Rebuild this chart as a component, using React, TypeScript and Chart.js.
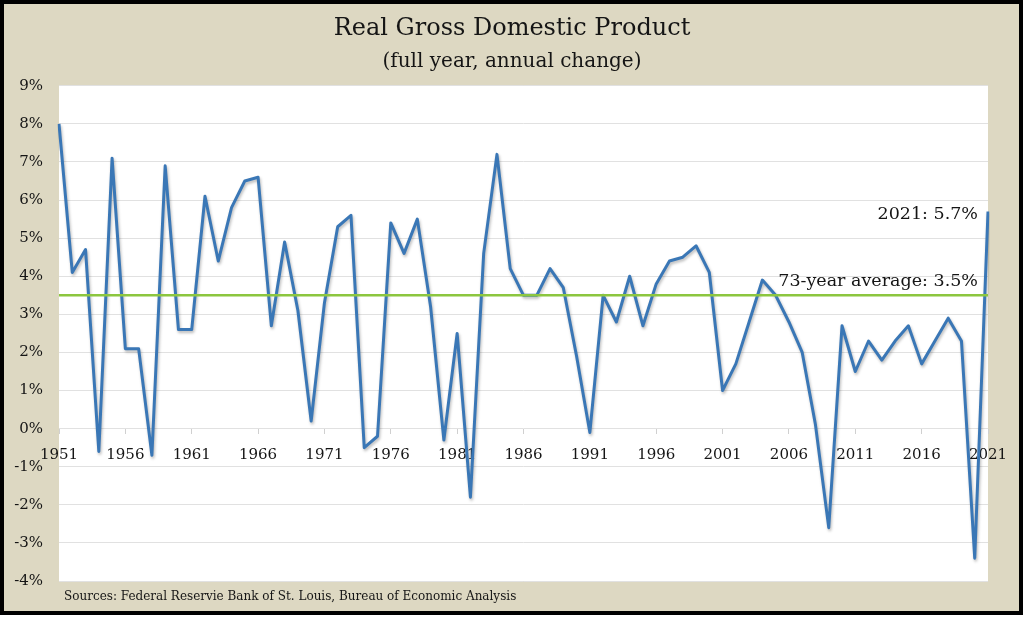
import React, { useEffect, useRef } from 'react';
import { Chart, registerables } from 'chart.js';

Chart.register(...registerables);

// ---- Data ----
const years: string[] = [
  '1951', '1952', '1953', '1954', '1955', '1956', '1957', '1958', '1959', '1960',
  '1961', '1962', '1963', '1964', '1965', '1966', '1967', '1968', '1969', '1970',
  '1971', '1972', '1973', '1974', '1975', '1976', '1977', '1978', '1979', '1980',
  '1981', '1982', '1983', '1984', '1985', '1986', '1987', '1988', '1989', '1990',
  '1991', '1992', '1993', '1994', '1995', '1996', '1997', '1998', '1999', '2000',
  '2001', '2002', '2003', '2004', '2005', '2006', '2007', '2008', '2009', '2010',
  '2011', '2012', '2013', '2014', '2015', '2016', '2017', '2018', '2019', '2020',
  '2021',
];

const gdpGrowth: number[] = [
  8.0, 4.1, 4.7, -0.6, 7.1, 2.1, 2.1, -0.7, 6.9, 2.6,
  2.6, 6.1, 4.4, 5.8, 6.5, 6.6, 2.7, 4.9, 3.1, 0.2,
  3.3, 5.3, 5.6, -0.5, -0.2, 5.4, 4.6, 5.5, 3.2, -0.3,
  2.5, -1.8, 4.6, 7.2, 4.2, 3.5, 3.5, 4.2, 3.7, 1.9,
  -0.1, 3.5, 2.8, 4.0, 2.7, 3.8, 4.4, 4.5, 4.8, 4.1,
  1.0, 1.7, 2.8, 3.9, 3.5, 2.8, 2.0, 0.1, -2.6, 2.7,
  1.5, 2.3, 1.8, 2.3, 2.7, 1.7, 2.3, 2.9, 2.3, -3.4,
  5.7,
];

const AVERAGE = 3.5;
const averageLine: number[] = years.map(() => AVERAGE);

const yTicks: number[] = [-4, -3, -2, -1, 0, 1, 2, 3, 4, 5, 6, 7, 8, 9];
const xTickLabels: string[] = ['1951', '1956', '1961', '1966', '1971', '1976', '1981', '1986', '1991', '1996', '2001', '2006', '2011', '2016', '2021'];

const TITLE = 'Real Gross Domestic Product';
const SUBTITLE = '(full year, annual change)';
const AVG_LABEL = '73-year average: ' + AVERAGE.toFixed(1) + '%';
const LAST_LABEL = years[years.length - 1] + ': ' + gdpGrowth[gdpGrowth.length - 1].toFixed(1) + '%';
const SOURCE = 'Sources: Federal Reservie Bank of St. Louis, Bureau of Economic Analysis';

const SERIF = "'DejaVu Serif', serif";
const TEXT = '#151515';

const plotBg = {
  id: 'plotBg',
  beforeDraw(chart: any) {
    const { ctx, chartArea: a } = chart;
    ctx.save();
    ctx.fillStyle = '#ffffff';
    ctx.fillRect(a.left, a.top, a.right - a.left, a.bottom - a.top);
    ctx.restore();
  },
};

const lineShadow = {
  id: 'lineShadow',
  beforeDatasetDraw(chart: any, args: any) {
    if (args.index !== 1) return;
    const ctx = chart.ctx;
    ctx.save();
    ctx.shadowColor = 'rgba(0,0,0,0.28)';
    ctx.shadowBlur = 3;
    ctx.shadowOffsetX = 1;
    ctx.shadowOffsetY = 2;
  },
  afterDatasetDraw(chart: any, args: any) {
    if (args.index !== 1) return;
    chart.ctx.restore();
  },
};

const annotations = {
  id: 'annotations',
  afterDatasetsDraw(chart: any) {
    const { ctx, chartArea: a, scales } = chart;
    const y = scales.y;
    ctx.save();
    ctx.fillStyle = TEXT;
    ctx.font = '17.5px ' + SERIF;
    ctx.textAlign = 'right';
    ctx.textBaseline = 'middle';
    ctx.fillText(LAST_LABEL, a.right - 10, y.getPixelForValue(gdpGrowth[gdpGrowth.length - 1]) + 3);
    ctx.fillText(AVG_LABEL, a.right - 10, y.getPixelForValue(AVERAGE) - 14);
    ctx.font = '12px ' + SERIF;
    ctx.textAlign = 'left';
    ctx.fillText(SOURCE, 64, a.bottom + 16);
    ctx.restore();
  },
};

export default function App() {
  const ref = useRef<HTMLCanvasElement>(null);

  useEffect(() => {
    document.body.style.margin = '0';
    const chart = new Chart(ref.current as HTMLCanvasElement, {
      type: 'line',
      data: {
        labels: years,
        datasets: [
          {
            label: 'Average',
            data: averageLine,
            borderColor: '#8cc63f',
            borderWidth: 2.5,
            pointRadius: 0,
            order: 0,
          },
          {
            label: 'Real GDP',
            data: gdpGrowth,
            borderColor: '#3a77b6',
            borderWidth: 3,
            pointRadius: 0,
            tension: 0,
            borderJoinStyle: 'round',
            order: 1,
          },
        ],
      },
      options: {
        responsive: false,
        animation: false,
        devicePixelRatio: 1,
        layout: { padding: { top: 4, left: 0, right: 0, bottom: 36 } },
        plugins: {
          legend: { display: false },
          tooltip: { enabled: false },
          title: {
            display: true,
            text: TITLE,
            color: TEXT,
            font: { family: SERIF, size: 24, weight: 'normal' },
            padding: { top: 10, bottom: 4 },
          },
          subtitle: {
            display: true,
            text: SUBTITLE,
            color: TEXT,
            font: { family: SERIF, size: 20, weight: 'normal' },
            padding: { top: 3, bottom: 12 },
          },
        },
        scales: {
          x: {
            type: 'category',
            position: { y: 0 },
            grid: { display: true, drawOnChartArea: false, drawTicks: true, tickLength: 5, color: '#d0d0d0' },
            border: { display: false },
            ticks: {
              autoSkip: false,
              maxRotation: 0,
              padding: 12,
              color: TEXT,
              font: { family: SERIF, size: 15 },
              callback: (_v: any, i: number) => (xTickLabels.includes(years[i]) ? years[i] : null),
            },
          },
          y: {
            position: 'left',
            min: yTicks[0],
            max: yTicks[yTicks.length - 1],
            afterBuildTicks: (s: any) => { s.ticks = yTicks.map((v) => ({ value: v })); },
            afterFit: (s: any) => { s.width = 59; },
            grid: { color: '#e1e1e1', drawTicks: false },
            border: { display: false },
            ticks: {
              padding: 16,
              color: TEXT,
              font: { family: SERIF, size: 15 },
              callback: (v: any) => v + '%',
            },
          },
          yRight: {
            type: 'linear',
            position: 'right',
            display: true,
            grid: { display: false, drawTicks: false },
            border: { display: false },
            ticks: { display: false },
            afterFit: (s: any) => { s.width = 36; },
          },
        },
      },
      plugins: [plotBg, lineShadow, annotations],
    } as any);
    return () => chart.destroy();
  }, []);

  return (
    <div style={{ position: 'relative', width: 1024, height: 617, background: '#ffffff' }}>
      <div
        style={{
          position: 'absolute', left: 0, top: 0, width: 1023, height: 615,
          boxSizing: 'border-box', border: '4px solid #000', background: '#ddd8c2',
        }}
      />
      <canvas ref={ref} width={1024} height={617} style={{ position: 'absolute', left: 0, top: 0 }} />
    </div>
  );
}
